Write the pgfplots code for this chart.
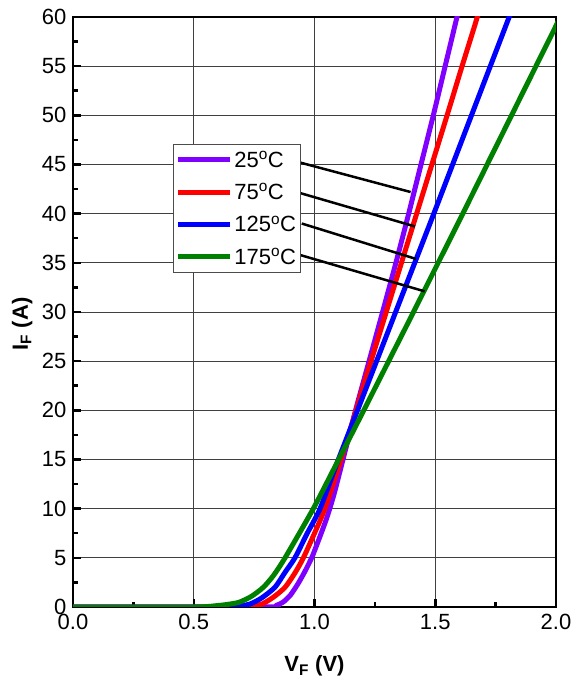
\documentclass[border=0pt]{standalone}
\usepackage{pgfplots}
\pgfplotsset{compat=1.18}
\usepackage{fontspec}
\setmainfont{Liberation Sans}
\definecolor{vio}{RGB}{128,0,255}
\definecolor{gr}{RGB}{0,128,0}
\begin{document}
\begin{tikzpicture}
\useasboundingbox (0,0) rectangle (573pt,679pt);
\begin{axis}[
  at={(73pt,72pt)}, anchor=south west,
  scale only axis, width=483pt, height=590pt,
  xmin=0, xmax=2, ymin=0, ymax=60,
  xtick={0,0.5,1,1.5,2}, ytick={0,5,10,15,20,25,30,35,40,45,50,55,60},
  minor x tick num=1, minor y tick num=1,
  tick pos=left, tick align=inside,
  major tick length=8pt, minor tick length=5pt,
  every tick/.style={black, line width=2.5pt},
  axis line style={line width=2.5pt},
  grid=major,
  major grid style={black!75, line width=0.8pt},
  /pgf/number format/assume math mode=true,
  xticklabel style={/pgf/number format/fixed, /pgf/number format/fixed zerofill, /pgf/number format/precision=1, yshift=-4pt},
  tick label style={font=\fontsize{22}{22}\selectfont},
  yticklabel style={xshift=-3pt},
  xlabel={\textbf{V\textsubscript{F} (V)}},
  ylabel={\textbf{I\textsubscript{F} (A)}},
  label style={font=\fontsize{22}{22}\selectfont},
  xlabel style={at={(axis description cs:0.5,-0.1)}, anchor=center},
  ylabel style={at={(axis description cs:-0.105,0.48)}, anchor=center},
  legend style={at={(axis cs:0.414,47.1)}, anchor=north west, draw=black!70,
    line width=0.8pt, fill=white, font=\fontsize{22}{22}\selectfont,
    inner xsep=2pt, inner ysep=5pt, row sep=11pt},
  legend cell align=left,
  legend image code/.code={\draw[#1, line width=5pt] (0pt,0pt) -- (52pt,0pt);},
  every axis plot/.append style={line width=5pt, line join=round, smooth, tension=0.4},
]
\addplot[vio] coordinates {
(0,0) (0.80,0) (0.84,0.15) (0.87,0.5) (0.90,1.2) (0.93,2.3) (0.96,3.6) (0.99,5.1)
(1.02,7) (1.05,9) (1.08,11.4) (1.118,15) (1.170,20) (1.226,25) (1.282,30) (1.337,35)
(1.390,40) (1.441,45) (1.492,50) (1.541,55) (1.590,60) (1.60,61)};
\addlegendentry{25\textsuperscript{o}C}
\addplot[red] coordinates {
(0,0) (0.72,0) (0.76,0.15) (0.787,0.35) (0.83,1) (0.878,2) (0.92,3.5) (0.954,5)
(1.0,7.5) (1.043,10) (1.110,15) (1.172,20) (1.234,25) (1.297,30) (1.360,35)
(1.423,40) (1.486,45) (1.549,50) (1.611,55) (1.674,60) (1.69,62)};
\addlegendentry{75\textsuperscript{o}C}
\addplot[blue] coordinates {
(0,0) (0.65,0) (0.70,0.15) (0.733,0.3) (0.78,0.9) (0.836,2) (0.88,3.6) (0.919,5)
(0.97,7.5) (1.023,10) (1.099,15) (1.178,20) (1.257,25) (1.336,30) (1.415,35)
(1.494,40) (1.572,45) (1.650,50) (1.728,55) (1.806,60) (1.82,61)};
\addlegendentry{125\textsuperscript{o}C}
\addplot[gr] coordinates {
(0,0) (0.50,0) (0.60,0.15) (0.65,0.3) (0.69,0.5) (0.74,1.1) (0.788,2) (0.83,3.2)
(0.878,5) (0.995,10) (1.100,15) (1.204,20) (1.307,25) (1.410,30) (1.512,35)
(1.614,40) (1.715,45) (1.816,50) (1.917,55) (1.996,58.9) (2.02,60.2)};
\addlegendentry{175\textsuperscript{o}C}
\draw[black, line width=2.5pt] (axis cs:0.94,45.2) -- (axis cs:1.398,42.2);
\draw[black, line width=2.5pt] (axis cs:0.94,42.1) -- (axis cs:1.416,38.7);
\draw[black, line width=2.5pt] (axis cs:0.947,39.0) -- (axis cs:1.420,35.4);
\draw[black, line width=2.5pt] (axis cs:0.94,35.8) -- (axis cs:1.456,32.1);
\end{axis}
\end{tikzpicture}
\end{document}
